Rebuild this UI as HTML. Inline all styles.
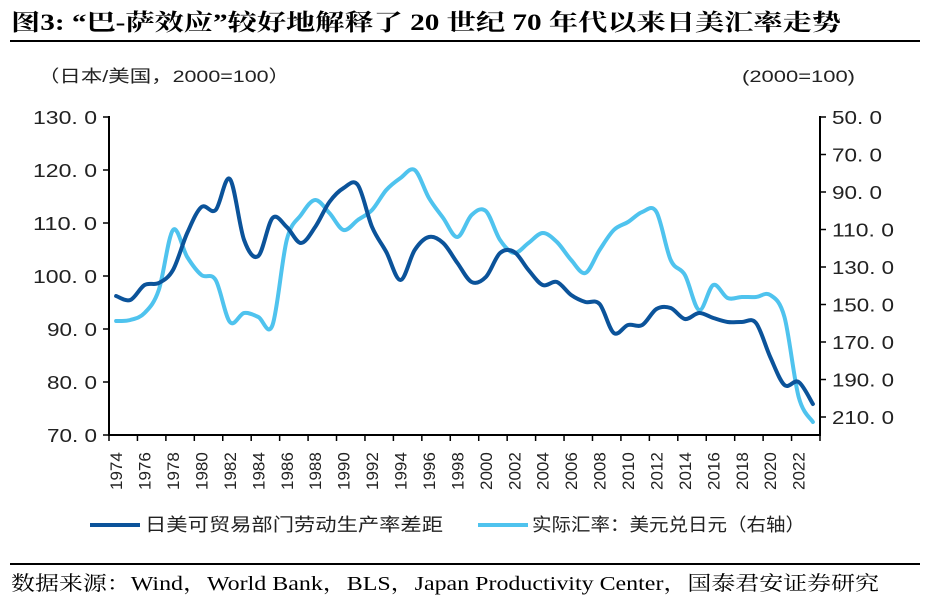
<!DOCTYPE html>
<html><head><meta charset="utf-8">
<style>
html,body{margin:0;padding:0;background:#fff;}
body{width:931px;height:603px;overflow:hidden;position:relative;}
svg{position:absolute;left:0;top:0;}
</style></head>
<body>
<svg width="931" height="603" viewBox="0 0 931 603" xmlns="http://www.w3.org/2000/svg">
<text x="11" y="30" font-family="'Liberation Serif','Noto Serif CJK SC',serif" font-weight="bold" font-size="23" fill="#000" textLength="830" lengthAdjust="spacingAndGlyphs">图3:  “巴-萨效应”较好地解释了 20 世纪 70 年代以来日美汇率走势</text>
<line x1="10" y1="41" x2="920" y2="41" stroke="#000" stroke-width="2"/>
<g font-family="'Liberation Sans','Noto Sans CJK SC',sans-serif" font-size="17" fill="#222">
<text x="38" y="82" textLength="252" lengthAdjust="spacingAndGlyphs">（日本/美国，2000=100）</text>
<text x="742" y="82" textLength="113" lengthAdjust="spacingAndGlyphs">(2000=100)</text>
</g>
<g stroke="#000" stroke-width="2" fill="none">
<line x1="109" y1="116" x2="109" y2="436"/>
<line x1="108" y1="435" x2="821" y2="435"/>
<line x1="820" y1="116" x2="820" y2="436"/>
</g>
<g id="ticks" stroke="#000" stroke-width="1.5"></g>
<g id="labels" font-family="'Liberation Sans',sans-serif" font-size="18" fill="#222"></g>
<path id="light" fill="none" stroke="#4FC3EE" stroke-width="4" stroke-linejoin="round" stroke-linecap="round"/>
<path id="dark" fill="none" stroke="#0B539A" stroke-width="4" stroke-linejoin="round" stroke-linecap="round"/>
<line x1="90" y1="525" x2="140" y2="525" stroke="#0B539A" stroke-width="4"/>
<line x1="478" y1="525" x2="528" y2="525" stroke="#4FC3EE" stroke-width="4"/>
<g font-family="'Liberation Sans','Noto Sans CJK SC',sans-serif" font-size="18" fill="#222">
<text x="145" y="531" textLength="298" lengthAdjust="spacingAndGlyphs">日美可贸易部门劳动生产率差距</text>
<text x="532" y="531" textLength="273" lengthAdjust="spacingAndGlyphs">实际汇率：美元兑日元（右轴）</text>
</g>
<line x1="10" y1="564" x2="920" y2="564" stroke="#000" stroke-width="2"/>
<text x="11" y="590" font-family="'Liberation Serif','Noto Serif CJK SC',serif" font-size="20" fill="#000" textLength="868" lengthAdjust="spacingAndGlyphs">数据来源：Wind，World Bank，BLS，Japan Productivity Center，国泰君安证券研究</text>
</svg>
<script>
var ns="http://www.w3.org/2000/svg";
var tk=document.getElementById('ticks'),lb=document.getElementById('labels');
function el(p,n,a,t){var e=document.createElementNS(ns,n);for(var k in a)e.setAttribute(k,a[k]);if(t)e.textContent=t;p.appendChild(e);}
for(var i=0;i<7;i++){var y=117+i*53;var s=(130-i*10).toFixed(1).replace('.','. ');el(tk,'line',{x1:103,y1:y,x2:109,y2:y});
var t=document.createElementNS(ns,'text');t.setAttribute('x',97-(s.length==6?64:50));t.setAttribute('y',y+7);t.setAttribute('textLength',s.length==6?64:50);t.setAttribute('lengthAdjust','spacingAndGlyphs');t.textContent=s;lb.appendChild(t);}
for(var i=0;i<9;i++){var y=117+i*37.5;var s=(50+i*20).toFixed(1).replace('.','. ');el(tk,'line',{x1:820,y1:y,x2:826,y2:y});
el(lb,'text',{x:832,y:y+7,textLength:s.length==6?62:50,lengthAdjust:'spacingAndGlyphs'},s);}
var cw=711/50;
for(var i=0;i<=25;i++){var x=109+i*2*cw;el(tk,'line',{x1:x,y1:435,x2:x,y2:441});}
for(var i=0;i<25;i++){var x=109+(i*2+0.5)*cw;el(lb,'text',{x:0,y:0,'font-size':17,transform:'translate('+(x+6)+',490) rotate(-90)'},String(1974+i*2));}
var dark=[296,300,285,283,270,233,207,210,179,240,256,218,227,243,227,202,188,185,227,252,280,250,237,243,263,282,277,253,252,270,285,282,295,302,304,333,325,325,309,308,319,313,318,322,322,323,357,385,382,404];
var light=[321,320,313,290,230,257,275,280,322,313,317,325,240,215,200,213,230,220,210,190,178,170,198,218,237,215,211,240,253,243,233,242,260,273,250,230,222,212,212,260,275,310,285,298,297,297,295,317,397,422];
function path(v){var p=v.map(function(y,i){return [109+(i+0.5)*cw,y];});var d='M'+p[0][0]+','+p[0][1];
for(var i=0;i<p.length-1;i++){var p0=p[i-1]||p[i],p1=p[i],p2=p[i+1],p3=p[i+2]||p2;var t=0.5/3;
d+=' C'+(p1[0]+(p2[0]-p0[0])*t)+','+(p1[1]+(p2[1]-p0[1])*t)+' '+(p2[0]-(p3[0]-p1[0])*t)+','+(p2[1]-(p3[1]-p1[1])*t)+' '+p2[0]+','+p2[1];}return d;}
document.getElementById('dark').setAttribute('d',path(dark));
document.getElementById('light').setAttribute('d',path(light));
</script>
</body></html>
